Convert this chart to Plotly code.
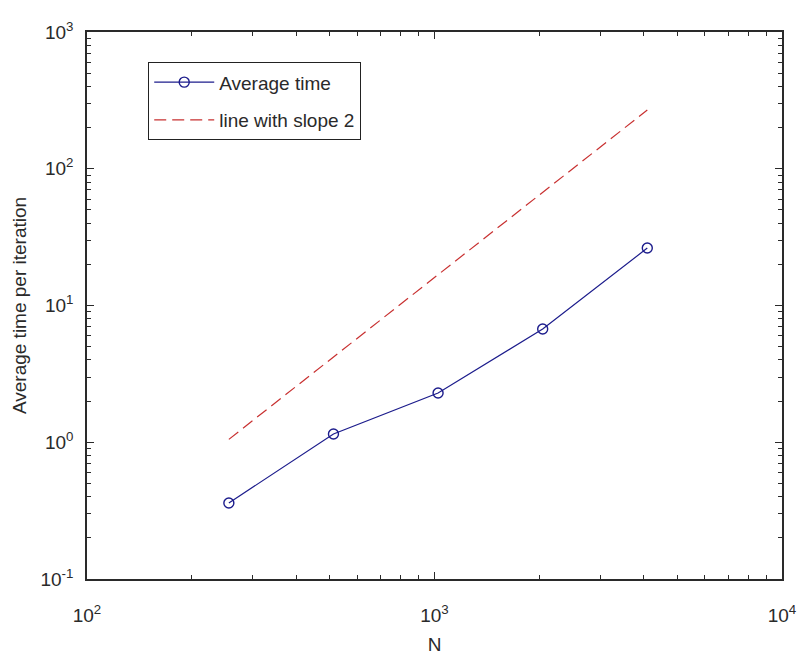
import plotly.graph_objects as go

N = [256, 512, 1024, 2048, 4096]
avg_time = [0.36, 1.15, 2.29, 6.73, 26.3]
slope2 = [1.05, 4.2, 16.8, 67.2, 268.8]

x_tickvals = [100, 1000, 10000]
x_ticktext = ["10<sup>2</sup>", "10<sup>3</sup>", "10<sup>4</sup>"]
y_tickvals = [0.1, 1, 10, 100, 1000]
y_ticktext = ["10<sup>-1</sup>", "10<sup>0</sup>", "10<sup>1</sup>", "10<sup>2</sup>", "10<sup>3</sup>"]

FONT = "Liberation Sans, Arial, sans-serif"
TXT = "#2a2a2a"

fig = go.Figure()
fig.add_trace(go.Scatter(
    x=N, y=avg_time, mode="lines+markers", name="Average time",
    line=dict(color="#1c1c8c", width=1.2),
    marker=dict(symbol="circle-open", size=10, color="#1c1c8c", line=dict(width=1.4)),
    legendgroup="a",
))
fig.add_trace(go.Scatter(
    x=N, y=slope2, mode="lines", name="line with slope 2",
    line=dict(color="#c83030", width=1.2, dash="12px,6px"),
    legendgroup="b",
))

axis_common = dict(
    type="log", showgrid=False, zeroline=False, automargin=False,
    showline=True, linecolor="#2a2a2a", linewidth=1.5, mirror="allticks",
    ticks="inside", ticklen=7, tickcolor="#2a2a2a", tickwidth=1,
    minor=dict(ticks="inside", ticklen=4, tickcolor="#2a2a2a", dtick="D1"),
    tickfont=dict(family=FONT, size=19, color=TXT),
)

fig.update_layout(
    width=797, height=655,
    margin=dict(l=87, r=15, t=32, b=76),
    paper_bgcolor="white", plot_bgcolor="white",
    xaxis=dict(axis_common, range=[2, 4], tickvals=x_tickvals, ticktext=x_ticktext,
               ticklabelstandoff=18,
               title=dict(text="N", standoff=14, font=dict(family=FONT, size=19, color=TXT))),
    yaxis=dict(axis_common, range=[-1, 3], tickvals=y_tickvals, ticktext=y_ticktext,
               ticklabelstandoff=8,
               title=dict(text="Average time per iteration", standoff=9,
                          font=dict(family=FONT, size=19, color=TXT))),
    legend=dict(x=0.0878, y=0.945, xanchor="left", yanchor="top",
                bordercolor="#222", borderwidth=1.2, bgcolor="white",
                font=dict(family=FONT, size=19, color=TXT),
                itemwidth=60, traceorder="grouped", tracegroupgap=10),
    showlegend=True,
)

fig.write_html("out.html")
